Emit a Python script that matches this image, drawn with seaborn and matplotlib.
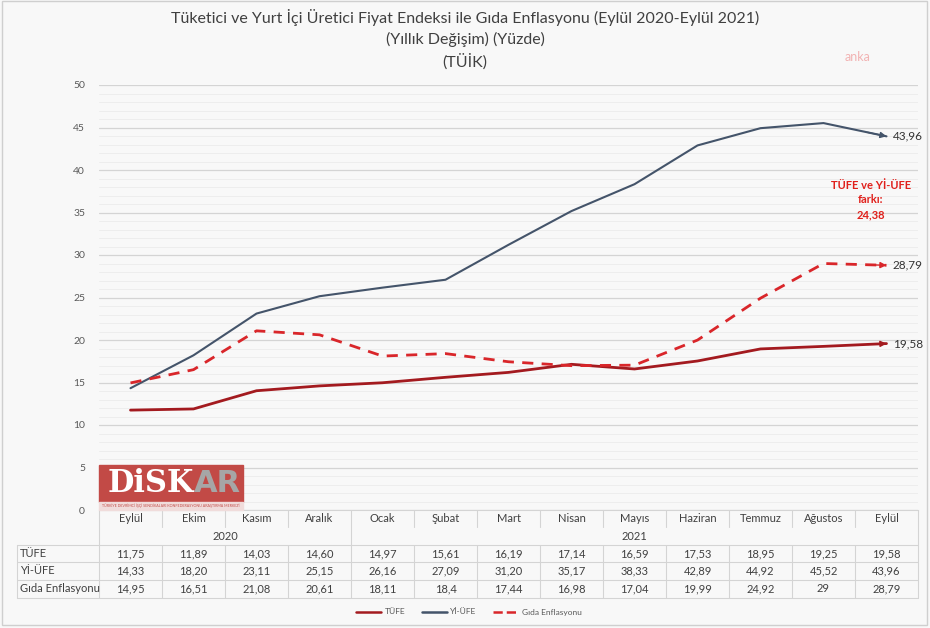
import numpy as np
import pandas as pd
import matplotlib.pyplot as plt
import matplotlib.transforms as mtransforms
from matplotlib.patches import Rectangle
from matplotlib.lines import Line2D
from matplotlib.ticker import MultipleLocator
import seaborn as sns

# data
months = ["Eylül", "Ekim", "Kasım", "Aralık", "Ocak", "Şubat", "Mart",
          "Nisan", "Mayıs", "Haziran", "Temmuz", "Ağustos", "Eylül"]
years = ["2020", "2021"]
year_first = [0, 4]
year_last = [3, 12]
tufe = [11.75, 11.89, 14.03, 14.60, 14.97, 15.61, 16.19, 17.14, 16.59, 17.53, 18.95, 19.25, 19.58]
yiufe = [14.33, 18.20, 23.11, 25.15, 26.16, 27.09, 31.20, 35.17, 38.33, 42.89, 44.92, 45.52, 43.96]
gida = [14.95, 16.51, 21.08, 20.61, 18.11, 18.4, 17.44, 16.98, 17.04, 19.99, 24.92, 29, 28.79]
series_names = ["TÜFE", "Yİ-ÜFE", "Gıda Enflasyonu"]
gap_label = "TÜFE ve Yİ-ÜFE\nfarkı:\n24,38"

title_lines = ["Tüketici ve Yurt İçi Üretici Fiyat Endeksi ile Gıda Enflasyonu (Eylül 2020-Eylül 2021)",
               "(Yıllık Değişim) (Yüzde)",
               "(TÜİK)"]

colors = {"TÜFE": "#a31a1f", "Yİ-ÜFE": "#44546a", "Gıda Enflasyonu": "#d9262a"}
bg = "#f8f8f8"
grey_txt = "#404040"
line_grey = "#d4d4d4"

sns.set_style("white")
plt.rcParams['font.family'] = ['Lato', 'DejaVu Sans']

W, H = 930, 628
fig = plt.figure(figsize=(9.3, 6.28), dpi=100, facecolor=bg)
ax = fig.add_axes([99 / W, 1 - 510 / H, 819 / W, 425 / H])
ax.set_facecolor(bg)

df = pd.DataFrame({
    "x": np.tile(np.arange(len(months)), 3),
    "value": tufe + yiufe + gida,
    "series": np.repeat(series_names, len(months)),
})
sns.lineplot(data=df, x="x", y="value", hue="series", style="series", size="series",
             palette=colors, sizes={"TÜFE": 2.0, "Yİ-ÜFE": 1.5, "Gıda Enflasyonu": 2.0},
             dashes={"TÜFE": "", "Yİ-ÜFE": "", "Gıda Enflasyonu": (4, 3)},
             legend=False, ax=ax, zorder=3)

# arrow heads and end labels
for name, vals in zip(series_names, [tufe, yiufe, gida]):
    x0 = len(vals) - 1
    ax.annotate("", xy=(x0, vals[-1]), xytext=(x0 - 0.3, vals[-1] - 0.3 * (vals[-1] - vals[-2])),
                arrowprops=dict(arrowstyle="-|>", color=colors[name], lw=1, mutation_scale=9,
                                shrinkA=0, shrinkB=0), zorder=4)
    ax.text(x0 + 0.1, vals[-1], f"{vals[-1]:.2f}".replace(".", ","), va="center", ha="left",
            fontsize=8.5, color="#333333")

ax.text(11.75, 36.5, gap_label, ha="center", va="center", color="#e0201b",
        fontsize=8, fontweight="bold", linespacing=1.4)

ax.set_xlim(-0.5, len(months) - 0.5)
ax.set_ylim(0, 50)
ax.yaxis.set_major_locator(MultipleLocator(5))
ax.yaxis.set_minor_locator(MultipleLocator(1))
ax.grid(axis="y", which="major", color=line_grey, lw=0.9)
ax.grid(axis="y", which="minor", color="#ebebeb", lw=0.6)
ax.set_axisbelow(True)
ax.tick_params(which="both", length=0, labelsize=7.5, colors="#595959", pad=10)
ax.set_xticks([])
ax.set_xlabel("")
ax.set_ylabel("")
for s in ["top", "right", "left"]:
    ax.spines[s].set_visible(False)
ax.spines["bottom"].set_color(line_grey)

# titles
for i, t in enumerate(title_lines):
    fig.text(0.5, 1 - (17 + 22.5 * i) / H, t, ha="center", va="center", fontsize=11.5, color=grey_txt)
fig.text(858 / W, 1 - 57 / H, "anka", ha="center", va="center", fontsize=9, color="#f2b3b3")

# data table under the chart
trans = mtransforms.blended_transform_factory(ax.transData, fig.transFigure)
fy = lambda py: 1 - py / H
tx_left = ax.transData.inverted().transform((17, 0))[0]


def tline(xs, ys):
    ax.add_line(Line2D(xs, [fy(y) for y in ys], transform=trans, color=line_grey,
                       lw=0.8, clip_on=False))


n = len(months)
for i, m in enumerate(months):
    ax.text(i, fy(519), m, transform=trans, ha="center", va="center", fontsize=8, color=grey_txt)
for yl, a, b in zip(years, year_first, year_last):
    ax.text((a + b) / 2, fy(536), yl, transform=trans, ha="center", va="center", fontsize=8, color=grey_txt)

row_lines = [545, 562, 580, 598]
for i in range(n + 1):
    xb = i - 0.5
    if i in (0, year_first[1], n):
        tline([xb, xb], [510, row_lines[-1]])
    else:
        tline([xb, xb], [510, 527])
        tline([xb, xb], [545, row_lines[-1]])
for yy in row_lines:
    tline([tx_left, n - 0.5], [yy, yy])
tline([tx_left, tx_left], [545, row_lines[-1]])

rows = [("TÜFE", [f"{v:.2f}" for v in tufe]),
        ("Yİ-ÜFE", [f"{v:.2f}" for v in yiufe]),
        ("Gıda Enflasyonu", [f"{v:g}" for v in gida])]
for (lab, vals), py in zip(rows, [553.5, 571, 589]):
    ax.text(tx_left + 0.05, fy(py), lab, transform=trans, ha="left", va="center", fontsize=8, color=grey_txt)
    for i, v in enumerate(vals):
        ax.text(i, fy(py), v.replace(".", ","), transform=trans, ha="center", va="center",
                fontsize=8, color=grey_txt)

# legend
handles = [Line2D([], [], color=colors[s], lw=1.8, ls="--" if s == "Gıda Enflasyonu" else "-")
           for s in series_names]
fig.legend(handles, series_names, loc="center", bbox_to_anchor=(469 / W, fy(612)), ncol=3,
           fontsize=6, frameon=False, handlelength=3, handletextpad=0.4, columnspacing=2,
           labelcolor="#595959")

# logo
fig.patches.append(Rectangle((99 / W, fy(502)), 144 / W, 37 / H, transform=fig.transFigure,
                             color="#c24a46", zorder=5))
fig.patches.append(Rectangle((99 / W, fy(510)), 144 / W, 8 / H, transform=fig.transFigure,
                             color="#f0dcdb", zorder=5))
fig.text(108 / W, fy(484), "DiSK", fontsize=22, fontweight="bold", family="DejaVu Serif",
         color="white", va="center", ha="left", zorder=6)
fig.text(194 / W, fy(484), "AR", fontsize=22, fontweight="bold", family="DejaVu Sans",
         color="#a6a6a6", va="center", ha="left", zorder=6)
fig.text(171 / W, fy(506), "TÜRKİYE DEVRİMCİ İŞÇİ SENDİKALARI KONFEDERASYONU ARAŞTIRMA MERKEZİ",
         fontsize=2.6, color="#c24a46", va="center", ha="center", zorder=6)

# outer frame
fig.patches.append(Rectangle((0.002, 0.004), 0.995, 0.994, transform=fig.transFigure,
                             fill=False, edgecolor="#cfcfcf", lw=1))

fig.savefig("out.png", dpi=100, facecolor=bg)
